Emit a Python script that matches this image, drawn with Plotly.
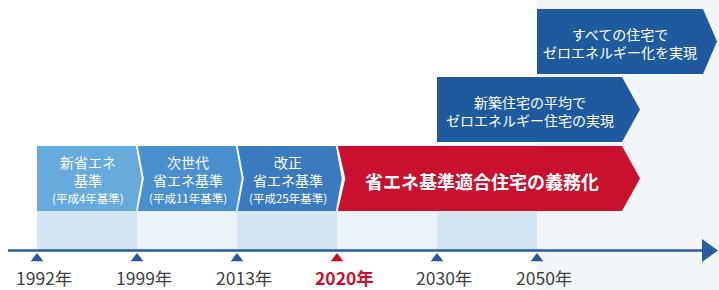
import plotly.graph_objects as go

# ---- data ----
years = ["1992年", "1999年", "2013年", "2020年", "2030年", "2050年"]
year_highlight = [False, False, False, True, False, False]

step_titles = ["新省エネ<br>基準", "次世代<br>省エネ基準", "改正<br>省エネ基準"]
step_notes = ["(平成4年基準)", "(平成11年基準)", "(平成25年基準)"]
step_colors = ["#67aadc", "#4a90cf", "#3a7bc0"]

goal_texts = ["省エネ基準適合住宅の義務化",
              "新築住宅の平均で<br>ゼロエネルギー住宅の実現",
              "すべての住宅で<br>ゼロエネルギー化を実現"]
goal_start = [3, 4, 5]          # index of the year where each goal begins
goal_colors = ["#c9102c", "#1f5a9f", "#1f5a9f"]

# ---- layout constants (pixel-like units on y, year-steps on x) ----
FONT = "Noto Sans CJK JP"
NAVY = "#2a5c9b"
RED = "#c9102c"
levels = [(146, 211), (77, 142), (9, 74)]      # y top/bottom of each stacked row
goal_right = [5.85, 5.85, 6.66]
goal_tip = [6.03, 6.03, 6.80]
D = 0.06                                         # chevron depth for small steps

fig = go.Figure()
shapes = []
annotations = []

# pale background on the far right
shapes.append(dict(type="rect", xref="x", yref="y", x0=5.0, x1=6.9, y0=0, y1=290,
                   fillcolor="#f3f6f9", line=dict(width=0), layer="below"))
# alternating columns between year markers
for i in range(len(years) - 1):
    col = "#d3e6f2" if i % 2 == 0 else "#ecf3f8"
    shapes.append(dict(type="rect", xref="x", yref="y", x0=i, x1=i + 1, y0=200, y1=250,
                       fillcolor=col, line=dict(width=0), layer="below"))


def poly(xs, ys, color):
    fig.add_trace(go.Scatter(x=xs + [xs[0]], y=ys + [ys[0]], mode="lines", fill="toself",
                             fillcolor=color, line=dict(width=0, color=color),
                             hoverinfo="skip", showlegend=False))


# small step chevrons
t, b = levels[0]
m = (t + b) / 2
for i, (title, note, c) in enumerate(zip(step_titles, step_notes, step_colors)):
    L = i + (0.0 if i == 0 else 0.008)
    R = i + 1 - 0.012
    xs = [L, R, R + D, R, L] + ([L + D] if i > 0 else [])
    ys = [t, t, m, b, b] + ([m] if i > 0 else [])
    poly(xs, ys, c)
    cx = (i + i + 1) / 2 + 0.01
    annotations.append(dict(x=cx, y=171, text=title, showarrow=False, borderpad=0,
                            font=dict(family=FONT, size=14, color="white")))
    annotations.append(dict(x=cx, y=198, text=note, showarrow=False, borderpad=0,
                            font=dict(family=FONT, size=11.5, color="white")))

# goal chevrons
for k, (txt, s, c) in enumerate(zip(goal_texts, goal_start, goal_colors)):
    t, b = levels[k]
    m = (t + b) / 2
    L = s + (0.008 if k == 0 else 0.0)
    R = goal_right[k]
    T = goal_tip[k]
    xs = [L, R, T, R, L] + ([L + 0.075] if k == 0 else [])
    ys = [t, t, m, b, b] + ([m] if k == 0 else [])
    poly(xs, ys, c)
    if k == 0:
        annotations.append(dict(x=(L + R) / 2 + 0.02, y=m + 2, text="<b>" + txt + "</b>",
                                showarrow=False,
                                font=dict(family=FONT, size=18, color="white")))
    else:
        annotations.append(dict(x=(L + R) / 2, y=m + 1, text=txt, showarrow=False,
                                font=dict(family=FONT, size=14, color="white")))

# timeline axis line + arrow head
shapes.append(dict(type="line", xref="x", yref="y", x0=-0.29, x1=6.67, y0=250.5, y1=250.5,
                   line=dict(color=NAVY, width=2.5)))
poly([6.65, 6.81, 6.65], [239, 250.5, 262], NAVY)

# year markers
xi = list(range(len(years)))
fig.add_trace(go.Scatter(x=xi, y=[258.5] * len(years), mode="markers",
                         marker=dict(symbol="triangle-up", size=11,
                                     color=[RED if h else NAVY for h in year_highlight]),
                         hoverinfo="skip", showlegend=False))
for i, (y, h) in enumerate(zip(years, year_highlight)):
    annotations.append(dict(x=i + 0.07, y=277, text=("<b>" + y + "</b>") if h else y,
                            showarrow=False,
                            font=dict(family=FONT, size=17.5, color=RED if h else "#404040")))

fig.update_layout(width=719, height=290, autosize=False,
                  margin=dict(l=0, r=0, t=0, b=0),
                  paper_bgcolor="white", plot_bgcolor="white",
                  xaxis=dict(range=[-0.37, 6.82], visible=False, fixedrange=True),
                  yaxis=dict(range=[290, 0], visible=False, fixedrange=True),
                  shapes=shapes, annotations=annotations)

fig.write_html("out.html", config={"displayModeBar": False},
               post_script="document.body.style.margin='0';document.body.style.overflow='hidden';")
